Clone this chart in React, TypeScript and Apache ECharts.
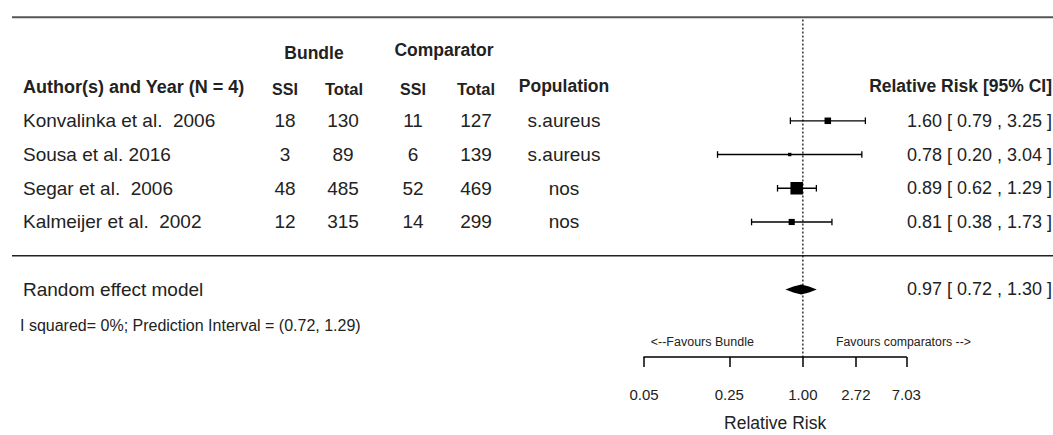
import React, { useEffect, useRef } from "react";
import * as echarts from "echarts";

// ---- data ----
const studies = ["Konvalinka et al.  2006", "Sousa et al. 2016", "Segar et al.  2006", "Kalmeijer et al.  2002"];
const bundleSSI = [18, 3, 48, 12];
const bundleTotal = [130, 89, 485, 315];
const compSSI = [11, 6, 52, 14];
const compTotal = [127, 139, 469, 299];
const population = ["s.aureus", "s.aureus", "nos", "nos"];
const rr = [1.6, 0.78, 0.89, 0.81];
const lower = [0.79, 0.2, 0.62, 0.38];
const upper = [3.25, 3.04, 1.29, 1.73];
const weights = [17.2, 4.7, 62.9, 15.2];
const pooledLabel = "Random effect model";
const pooledRR = [0.97];
const pooledLower = [0.72];
const pooledUpper = [1.3];
const heterogeneityText = "I squared= 0%; Prediction Interval = (0.72, 1.29)";
const tickValues = [0.05, 0.25, 1.0, 2.72, 7.03];
const favoursLeft = "<--Favours Bundle";
const favoursRight = "Favours comparators -->";
const axisTitle = "Relative Risk";

const FONT = "'Liberation Sans', Arial, Helvetica, sans-serif";
const TXT = "#222";

function txt(x: number, y: number, text: string, opts: any = {}) {
  return {
    type: "text",
    x,
    y,
    style: {
      text,
      fontFamily: FONT,
      fontSize: 19,
      fill: TXT,
      align: "center",
      verticalAlign: "middle",
      ...opts,
    },
  };
}

const fmt = (a: number, b: number, c: number) =>
  `${a.toFixed(2)} [ ${b.toFixed(2)} , ${c.toFixed(2)} ]`;

export default function App() {
  const ref = useRef<HTMLDivElement>(null);
  useEffect(() => {
    document.body.style.margin = "0";
    const chart = echarts.init(ref.current!, null, { renderer: "svg" });
    const ln = Math.log;
    const maxW = Math.max(...weights);
    const bold = { fontWeight: "bold", fontSize: 17.5 };

    const option: any = {
      animation: false,
      grid: [
        { left: 644, width: 262.3, top: 19.6, height: 337.3, outerBoundsMode: "none", containLabel: false },
        { left: 0, width: 1053, top: 19.6, height: 337.3, outerBoundsMode: "none", containLabel: false },
      ],
      xAxis: [
        {
          gridIndex: 0,
          type: "value",
          min: ln(tickValues[0]),
          max: ln(tickValues[tickValues.length - 1]),
          splitLine: { show: false },
          axisLine: { onZero: false, lineStyle: { color: "#000", width: 1.5 } },
          axisTick: {
            customValues: tickValues.map((v) => ln(v)),
            length: 10,
            lineStyle: { color: "#000", width: 1.5 },
          },
          axisLabel: {
            customValues: tickValues.map((v) => ln(v)),
            formatter: (v: number) => Math.exp(v).toFixed(2),
            margin: 30,
            fontSize: 15,
            fontFamily: FONT,
            color: TXT,
          },
          name: axisTitle,
          nameLocation: "middle",
          nameGap: 66,
          nameTextStyle: { fontSize: 17.5, fontFamily: FONT, color: TXT, verticalAlign: "middle" },
        },
        { gridIndex: 1, type: "value", min: 0, max: 1053, show: false },
      ],
      yAxis: [
        { gridIndex: 0, type: "value", min: -3, max: 7, inverse: true, show: false },
        { gridIndex: 1, type: "value", min: -3, max: 7, inverse: true, show: false },
      ],
      series: [
        // rules
        {
          type: "custom",
          xAxisIndex: 1,
          yAxisIndex: 1,
          data: [[0, -3.07, 2, "#555"], [0, 4, 1.5, "#222"]],
          renderItem: (p: any, api: any) => {
            const y = api.coord([0, api.value(1)])[1];
            return {
              type: "line",
              shape: { x1: api.coord([12, 0])[0], y1: y, x2: api.coord([1053, 0])[0], y2: y },
              style: { stroke: api.value(3), lineWidth: api.value(2) },
            };
          },
        },
        // header
        {
          type: "custom",
          xAxisIndex: 1,
          yAxisIndex: 1,
          data: [[0, -1]],
          renderItem: (p: any, api: any) => {
            const c = (x: number, r: number) => api.coord([x, r]);
            return {
              type: "group",
              children: [
                txt(c(314, -2)[0], c(314, -2)[1], "Bundle", bold),
                txt(c(444, -2.1)[0], c(444, -2.1)[1], "Comparator", bold),
                txt(c(23, -1)[0], c(23, -1)[1], "Author(s) and Year (N = 4)", { ...bold, align: "left", fontSize: 18 }),
                txt(c(285, -0.93)[0], c(285, -0.93)[1], "SSI", { ...bold, fontSize: 16 }),
                txt(c(344, -0.95)[0], c(344, -0.95)[1], "Total", { ...bold, fontSize: 16.5 }),
                txt(c(413, -0.93)[0], c(413, -0.93)[1], "SSI", { ...bold, fontSize: 16 }),
                txt(c(476, -0.95)[0], c(476, -0.95)[1], "Total", { ...bold, fontSize: 16.5 }),
                txt(c(564, -1.03)[0], c(564, -1.03)[1], "Population", bold),
                txt(c(1052, -1.03)[0], c(1052, -1.03)[1], "Relative Risk [95% CI]", { ...bold, align: "right" }),
              ],
            };
          },
        },
        // study rows text
        {
          type: "custom",
          xAxisIndex: 1,
          yAxisIndex: 1,
          data: studies.map((_, i) => [0, i]),
          renderItem: (p: any, api: any) => {
            const i = p.dataIndex;
            const r = api.value(1);
            const c = (x: number) => api.coord([x, r]);
            const y = c(0)[1];
            return {
              type: "group",
              children: [
                txt(c(23)[0], y, studies[i], { align: "left" }),
                txt(c(285)[0], y, String(bundleSSI[i])),
                txt(c(343)[0], y, String(bundleTotal[i])),
                txt(c(413)[0], y, String(compSSI[i])),
                txt(c(476)[0], y, String(compTotal[i])),
                txt(c(564)[0], y, population[i]),
                txt(c(1052)[0], y, fmt(rr[i], lower[i], upper[i]), { align: "right", fontSize: 18 }),
              ],
            };
          },
        },
        // pooled row text
        {
          type: "custom",
          xAxisIndex: 1,
          yAxisIndex: 1,
          data: [[0, 5]],
          renderItem: (p: any, api: any) => {
            const c = (x: number, r: number) => api.coord([x, r]);
            return {
              type: "group",
              children: [
                txt(c(23, 5)[0], c(23, 5)[1], pooledLabel, { align: "left" }),
                txt(c(1052, 5)[0], c(1052, 5)[1], fmt(pooledRR[0], pooledLower[0], pooledUpper[0]), { align: "right", fontSize: 18 }),
                txt(c(20, 6.06)[0], c(20, 6.06)[1], heterogeneityText, { align: "left", fontSize: 16 }),
              ],
            };
          },
        },
        // reference line + favours labels
        {
          type: "custom",
          xAxisIndex: 0,
          yAxisIndex: 0,
          data: [[0, -3]],
          renderItem: (p: any, api: any) => {
            const a = api.coord([0, -3]);
            const b = api.coord([0, 7]);
            const l = api.coord([-1.896, 6.55]);
            const r = api.coord([1.896, 6.55]);
            return {
              type: "group",
              children: [
                {
                  type: "line",
                  shape: { x1: a[0], y1: a[1], x2: b[0], y2: b[1] },
                  style: { stroke: "#000", lineWidth: 1.2, lineDash: [2, 2] },
                },
                txt(l[0], l[1], favoursLeft, { fontSize: 12.5 }),
                txt(r[0], r[1], favoursRight, { fontSize: 12.3 }),
              ],
            };
          },
        },
        // study CIs and boxes
        {
          type: "custom",
          xAxisIndex: 0,
          yAxisIndex: 0,
          data: rr.map((v, i) => [ln(v), i, ln(lower[i]), ln(upper[i]), weights[i]]),
          renderItem: (p: any, api: any) => {
            const r = api.value(1);
            const pt = api.coord([api.value(0), r]);
            const lo = api.coord([api.value(2), r]);
            const hi = api.coord([api.value(3), r]);
            const s = 12.5 * Math.sqrt(api.value(4) / maxW);
            const st = { stroke: "#000", lineWidth: 1.3 };
            return {
              type: "group",
              children: [
                { type: "line", shape: { x1: lo[0], y1: pt[1], x2: hi[0], y2: pt[1] }, style: st },
                { type: "line", shape: { x1: lo[0], y1: pt[1] - 3.3, x2: lo[0], y2: pt[1] + 3.3 }, style: st },
                { type: "line", shape: { x1: hi[0], y1: pt[1] - 3.3, x2: hi[0], y2: pt[1] + 3.3 }, style: st },
                { type: "rect", shape: { x: pt[0] - s / 2, y: pt[1] - s / 2, width: s, height: s }, style: { fill: "#000" } },
              ],
            };
          },
        },
        // pooled diamond
        {
          type: "custom",
          xAxisIndex: 0,
          yAxisIndex: 0,
          data: pooledRR.map((v, i) => [ln(v), 5, ln(pooledLower[i]), ln(pooledUpper[i])]),
          renderItem: (p: any, api: any) => {
            const r = api.value(1);
            const c = api.coord([api.value(0), r]);
            const lo = api.coord([api.value(2), r]);
            const hi = api.coord([api.value(3), r]);
            return {
              type: "polygon",
              shape: {
                points: [
                  [lo[0], c[1]],
                  [(lo[0] + c[0]) / 2, c[1] - 3],
                  [c[0], c[1] - 5],
                  [(hi[0] + c[0]) / 2, c[1] - 3],
                  [hi[0], c[1]],
                  [(hi[0] + c[0]) / 2, c[1] + 3],
                  [c[0], c[1] + 5],
                  [(lo[0] + c[0]) / 2, c[1] + 3],
                ],
              },
              style: { fill: "#000" },
            };
          },
        },
      ],
    };
    chart.setOption(option);
    return () => chart.dispose();
  }, []);
  return <div ref={ref} style={{ width: 1053, height: 435, background: "#fff" }} />;
}
